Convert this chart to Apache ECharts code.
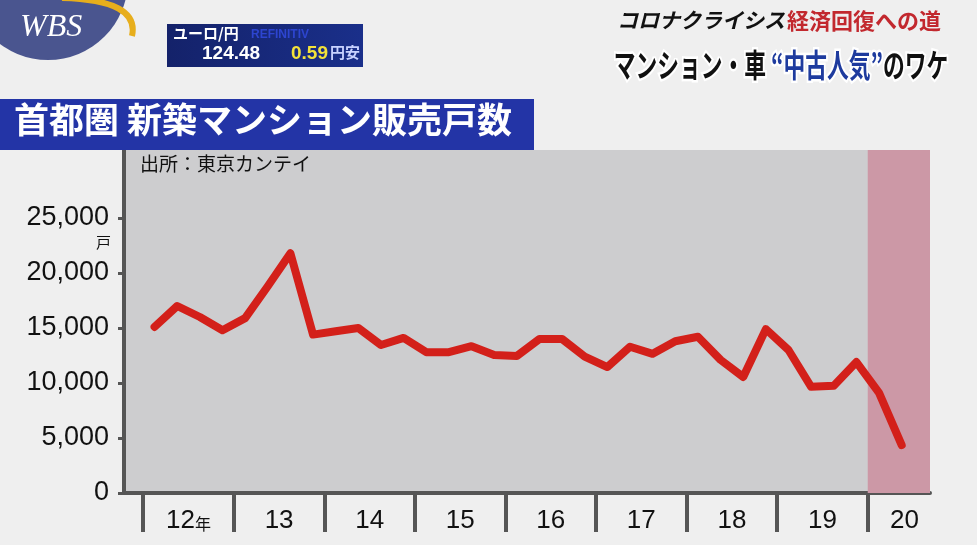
<!DOCTYPE html>
<html>
<head>
<meta charset="utf-8">
<script src="https://cdn.jsdelivr.net/npm/echarts@6/dist/echarts.min.js"></script>
<style>
html,body{margin:0;padding:0;background:#efefef;}
#c{width:977px;height:545px;}
</style>
</head>
<body>
<div id="c"></div>
<script>
// ---- data (quarterly, 2012Q1 .. 2020Q2) ----
const years = ['2012','2013','2014','2015','2016','2017','2018','2019','2020'];
const xLabels = ['12年','13','14','15','16','17','18','19','20'];
const units2012 = [15100, 17000, 16000, 14800];
const units2013 = [15900, 18800, 21800, 14400];
const units2014 = [14700, 15000, 13450, 14100];
const units2015 = [12800, 12800, 13350, 12550];
const units2016 = [12450, 14000, 14000, 12400];
const units2017 = [11450, 13300, 12650, 13800];
const units2018 = [14200, 12100, 10550, 14900];
const units2019 = [13000, 9650, 9750, 11900];
const units2020 = [9100, 4350];
const yTicks = [0, 5000, 10000, 15000, 20000, 25000];
const titleText = '首都圏 新築マンション販売戸数';
const sourceText = '出所：東京カンテイ';
const unitText = '戸';

const allYears = [units2012, units2013, units2014, units2015, units2016, units2017, units2018, units2019, units2020];
const seriesData = [];
allYears.forEach((arr, yi) => arr.forEach((v, q) => seriesData.push([yi * 4 + q + 0.5, v])));

const X_MIN = -0.85, X_MAX = 34.75;
const yearStarts = years.map((_, i) => i * 4);
const labelPos = years.map((_, i) => Math.min(i * 4 + 2, (i * 4 + X_MAX) / 2 + 0.25));
const Y_MAX = (343 / 55) * 5000;

const chart = echarts.init(document.getElementById('c'));
const numFont = "'Liberation Sans',sans-serif";
const jpFont = "'Noto Sans CJK JP','Noto Sans',sans-serif";

chart.setOption({
  animation: false,
  backgroundColor: '#efefef',
  grid: {left: 124, right: 47, top: 150, bottom: 52, show: true, backgroundColor: '#cdcdcf', borderWidth: 0},
  xAxis: {
    type: 'value', min: X_MIN, max: X_MAX,
    splitLine: {show: false},
    axisLine: {show: true, onZero: false, lineStyle: {color: '#555', width: 4}},
    axisTick: {show: true, customValues: yearStarts, length: 39, lineStyle: {color: '#555', width: 4}},
    axisLabel: {
      show: true, customValues: labelPos, margin: 15,
      formatter: function (v) {
        let idx = labelPos.findIndex(p => Math.abs(p - v) < 1e-6);
        if (idx < 0) return '';
        const s = xLabels[idx];
        const m = s.match(/^(\d+)(.*)$/);
        return m[2] ? '{n|' + m[1] + '}{s|' + m[2] + '}' : '{n|' + m[1] + '}';
      },
      rich: {
        n: {fontSize: 26, fontFamily: numFont, color: '#111'},
        s: {fontSize: 16, fontFamily: jpFont, color: '#111', padding: [6, 0, 0, 0]}
      }
    }
  },
  yAxis: {
    type: 'value', min: 0, max: Y_MAX,
    splitLine: {show: false},
    axisLine: {show: true, onZero: false, lineStyle: {color: '#555', width: 4}},
    axisTick: {show: true, customValues: yTicks, length: 6, lineStyle: {color: '#555', width: 3}},
    axisLabel: {
      customValues: yTicks, margin: 15, fontSize: 27, fontFamily: numFont, color: '#111',
      formatter: v => Math.round(v).toLocaleString('en-US')
    }
  },
  series: [{
    type: 'line',
    data: seriesData,
    symbol: 'none',
    z: 5,
    lineStyle: {color: '#d3201a', width: 8, cap: 'round', join: 'round'},
    markArea: {
      silent: true,
      itemStyle: {color: '#cc98a6', opacity: 1},
      data: [[{xAxis: 32}, {xAxis: X_MAX}]]
    }
  }],
  graphic: [
    // title banner
    {type: 'rect', left: 0, top: 99, shape: {width: 534, height: 51}, style: {fill: '#2334a6'}, z: 10},
    {type: 'text', left: 14, top: 102, style: {text: titleText, fill: '#fff', font: "bold 35px 'Noto Sans CJK JP'"}, z: 11},
    {type: 'text', left: 140, top: 154, style: {text: sourceText, fill: '#111', font: "19px 'Noto Sans CJK JP'"}, z: 11},
    {type: 'text', left: 96, top: 235, style: {text: unitText, fill: '#111', font: "15px 'Noto Sans CJK JP'"}, z: 11},
    // WBS logo
    {type: 'circle', shape: {cx: 48, cy: -20, r: 80}, style: {fill: '#4a558f'}, z: 10},
    {type: 'bezierCurve', shape: {x1: 62, y1: -2, cpx1: 140, cpy1: 0, x2: 132, y2: 36}, style: {stroke: '#e7ae1c', lineWidth: 6, fill: null}, z: 11},
    {type: 'text', left: 20, top: 12, style: {text: 'WBS', fill: '#fff', font: "italic 32px 'Liberation Serif'"}, z: 12},
    // ticker
    {type: 'rect', left: 167, top: 24, shape: {width: 196, height: 43}, style: {fill: new echarts.graphic.LinearGradient(0, 0, 1, 0, [{offset: 0, color: '#14226a'}, {offset: 1, color: '#1a2f8a'}])}, z: 10},
    {type: 'text', left: 173, top: 26, style: {text: 'ユーロ/円', fill: '#fff', font: "bold 15px 'Noto Sans CJK JP'"}, z: 11},
    {type: 'text', left: 251, top: 29, style: {text: 'REFINITIV', fill: '#2d45d0', font: "bold 12px 'Liberation Sans'"}, z: 11},
    {type: 'text', left: 202, top: 44, style: {text: '124.48', fill: '#fff', font: "bold 19px 'Liberation Sans'"}, z: 11},
    {type: 'text', left: 291, top: 44, style: {text: '0.59', fill: '#f3e23a', font: "bold 19px 'Liberation Sans'"}, z: 11},
    {type: 'text', left: 330, top: 45, style: {text: '円安', fill: '#c8d2ff', font: "bold 15px 'Noto Sans CJK JP'"}, z: 11},
    // headline
    {type: 'text', left: 617, top: 10, style: {text: 'コロナクライシス', fill: '#111', font: "italic bold 21px 'Noto Sans CJK JP'"}, z: 11},
    {type: 'text', left: 787, top: 10, style: {text: '経済回復への道', fill: '#c2282e', font: "bold 22px 'Noto Sans CJK JP'"}, z: 11},
    {type: 'text', left: 612, top: 46, scaleX: 0.68, style: {
      text: '{k|マンション・車 }{b|“中古人気”}{k|のワケ}',
      rich: {
        k: {fill: '#111', stroke: '#fff', lineWidth: 5, font: "bold 32px 'Noto Sans CJK JP'"},
        b: {fill: '#1e3b9e', stroke: '#fff', lineWidth: 5, font: "bold 32px 'Noto Sans CJK JP'"}
      }
    }, z: 11}
  ]
});
</script>
</body>
</html>
